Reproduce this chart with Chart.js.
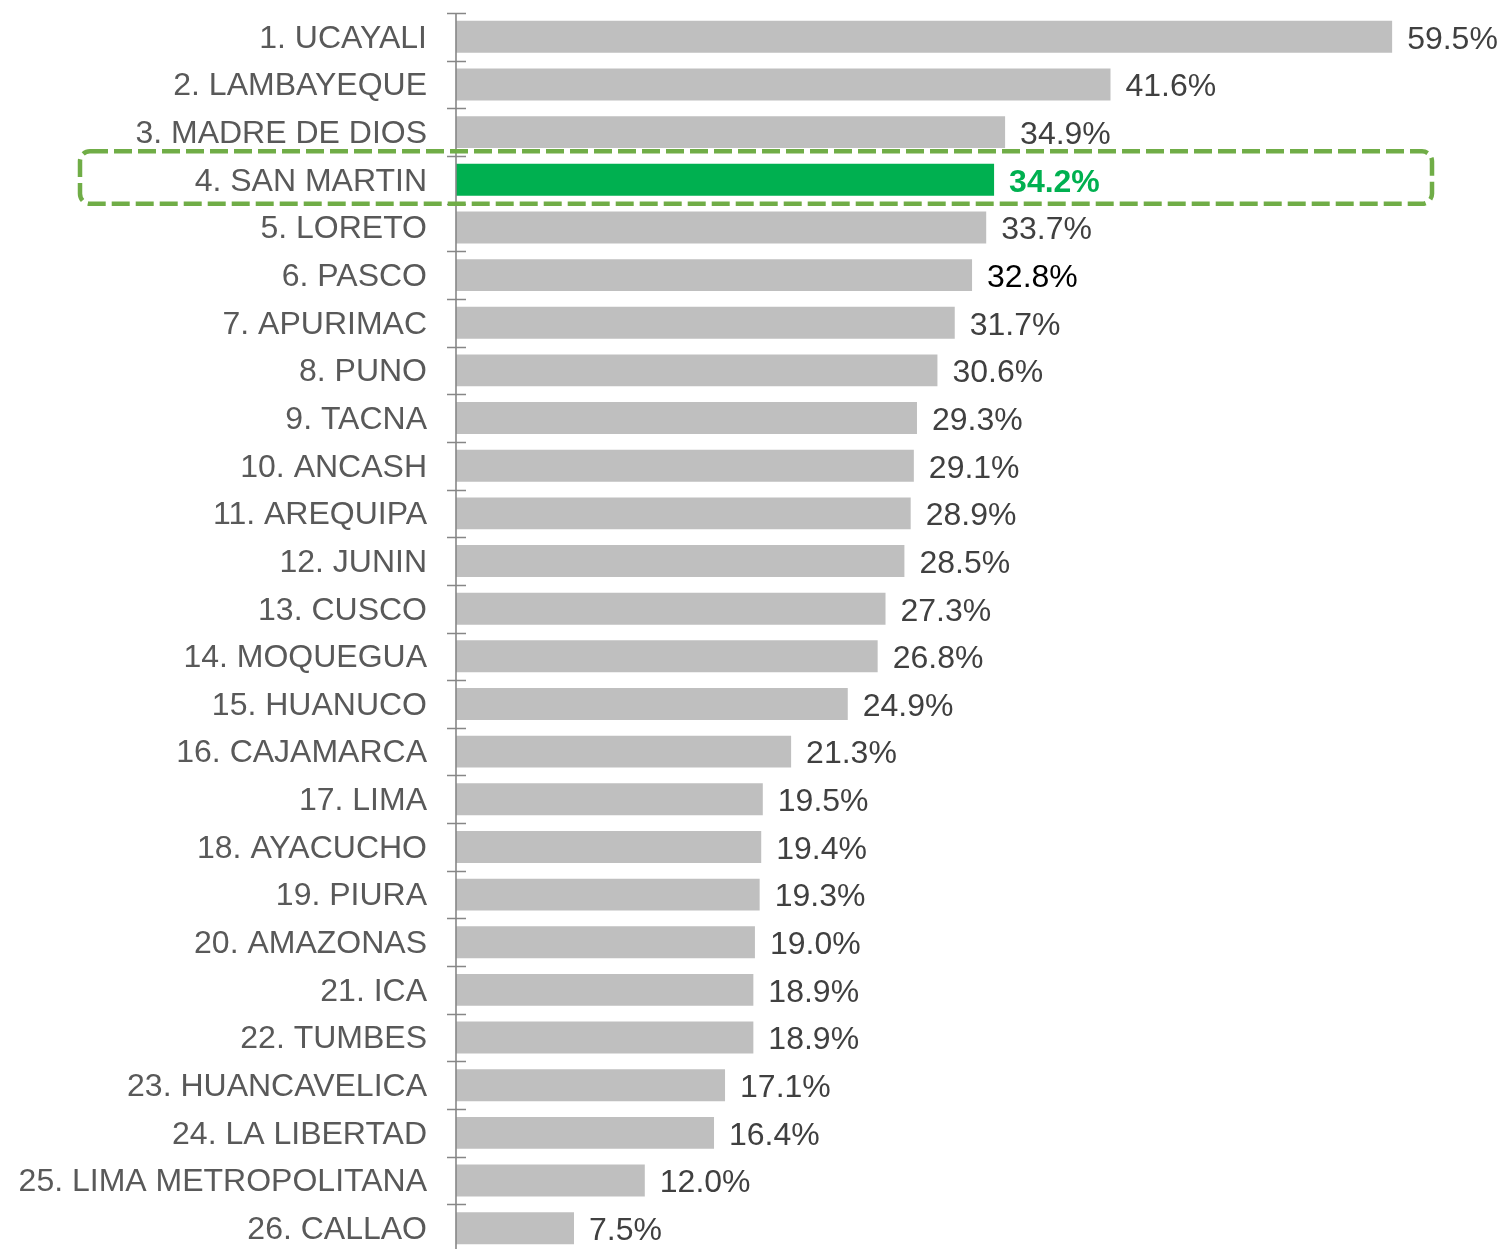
<!DOCTYPE html>
<html>
<head>
<meta charset="utf-8">
<script src="https://cdn.jsdelivr.net/npm/chart.js@4/dist/chart.umd.min.js"></script>
<style>
  html, body { margin: 0; padding: 0; background: #fff; overflow: hidden; }
  #wrap { width: 1506px; height: 1256px; }
</style>
</head>
<body>
<div id="wrap"><canvas id="myChart" width="1506" height="1256"></canvas></div>
<script>
// regiones y valores (%)
const regions = ['1. UCAYALI', '2. LAMBAYEQUE', '3. MADRE DE DIOS', '4. SAN MARTIN', '5. LORETO',
  '6. PASCO', '7. APURIMAC', '8. PUNO', '9. TACNA', '10. ANCASH', '11. AREQUIPA', '12. JUNIN',
  '13. CUSCO', '14. MOQUEGUA', '15. HUANUCO', '16. CAJAMARCA', '17. LIMA', '18. AYACUCHO',
  '19. PIURA', '20. AMAZONAS', '21. ICA', '22. TUMBES', '23. HUANCAVELICA', '24. LA LIBERTAD',
  '25. LIMA METROPOLITANA', '26. CALLAO'];
const values = [59.5, 41.6, 34.9, 34.2, 33.7, 32.8, 31.7, 30.6, 29.3, 29.1, 28.9, 28.5,
  27.3, 26.8, 24.9, 21.3, 19.5, 19.4, 19.3, 19.0, 18.9, 18.9, 17.1, 16.4, 12.0, 7.5];
const highlight = '4. SAN MARTIN';

const gray = '#BFBFBF';
const green = '#00B050';

const barColors = regions.map(r => r === highlight ? green : gray);

// eje vertical con marcas que cruzan la linea
const axisPlugin = {
  id: 'axisTicks',
  afterDatasetsDraw(chart) {
    const ctx = chart.ctx;
    const y = chart.scales.y;
    const x0 = chart.chartArea.left;
    const half = (y.getPixelForValue(1) - y.getPixelForValue(0)) / 2;
    ctx.save();
    ctx.strokeStyle = '#878787';
    ctx.lineWidth = 1.6;
    ctx.beginPath();
    ctx.moveTo(x0, chart.chartArea.top);
    ctx.lineTo(x0, chart.chartArea.bottom);
    for (let i = 0; i <= regions.length; i++) {
      const py = Math.round(y.getPixelForValue(i) - half) + 0.5;
      ctx.moveTo(x0 - 9, py);
      ctx.lineTo(x0 + 10, py);
    }
    ctx.stroke();
    ctx.restore();
  }
};

// etiquetas de valor
const labelPlugin = {
  id: 'valueLabels',
  afterDatasetsDraw(chart) {
    const ctx = chart.ctx;
    const meta = chart.getDatasetMeta(0);
    ctx.save();
    ctx.textBaseline = 'middle';
    ctx.textAlign = 'left';
    meta.data.forEach((bar, i) => {
      const isHi = regions[i] === highlight;
      ctx.font = (isHi ? 'bold ' : '') + '32px "Liberation Sans", Arial, sans-serif';
      ctx.fillStyle = isHi ? green : (regions[i] === '6. PASCO' ? '#000000' : '#404040');
      ctx.fillText(values[i].toFixed(1) + '%', bar.x + 15, bar.y + 3);
    });
    ctx.restore();
  }
};

// recuadro punteado alrededor de la region destacada
const boxPlugin = {
  id: 'highlightBox',
  afterDraw(chart) {
    const ctx = chart.ctx;
    const y = chart.scales.y;
    const idx = regions.indexOf(highlight);
    const cy = y.getPixelForValue(idx);
    const left = 80, right = 1432, top = cy - 28.5, bottom = cy + 24, r = 10;
    ctx.save();
    ctx.strokeStyle = '#70AD47';
    ctx.lineWidth = 4.5;
    ctx.setLineDash([18, 6]);
    ctx.beginPath();
    ctx.roundRect(left, top, right - left, bottom - top, r);
    ctx.stroke();
    ctx.restore();
  }
};

const ctx1 = document.getElementById('myChart').getContext('2d');
Chart.defaults.font.family = '"Liberation Sans", Arial, sans-serif';

new Chart(ctx1, {
  type: 'bar',
  data: {
    labels: regions,
    datasets: [{
      data: values,
      backgroundColor: barColors,
      borderWidth: 0,
      barPercentage: 0.67,
      categoryPercentage: 1.0
    }]
  },
  options: {
    indexAxis: 'y',
    responsive: false,
    animation: false,
    layout: { padding: { top: 13, bottom: 4, left: 0, right: 106 } },
    plugins: {
      legend: { display: false },
      tooltip: { enabled: false }
    },
    scales: {
      x: {
        display: false,
        min: 0,
        max: 60
      },
      y: {
        grid: { display: false, drawTicks: false },
        border: { display: false },
        ticks: {
          color: '#595959',
          font: { size: 32 },
          padding: 29,
          labelOffset: 2,
          autoSkip: false
        },
        afterFit(scale) {
          scale.width = 456;
          scale.paddingTop = 0;
          scale.paddingBottom = 0;
        }
      }
    }
  },
  plugins: [axisPlugin, labelPlugin, boxPlugin]
});
</script>
</body>
</html>
